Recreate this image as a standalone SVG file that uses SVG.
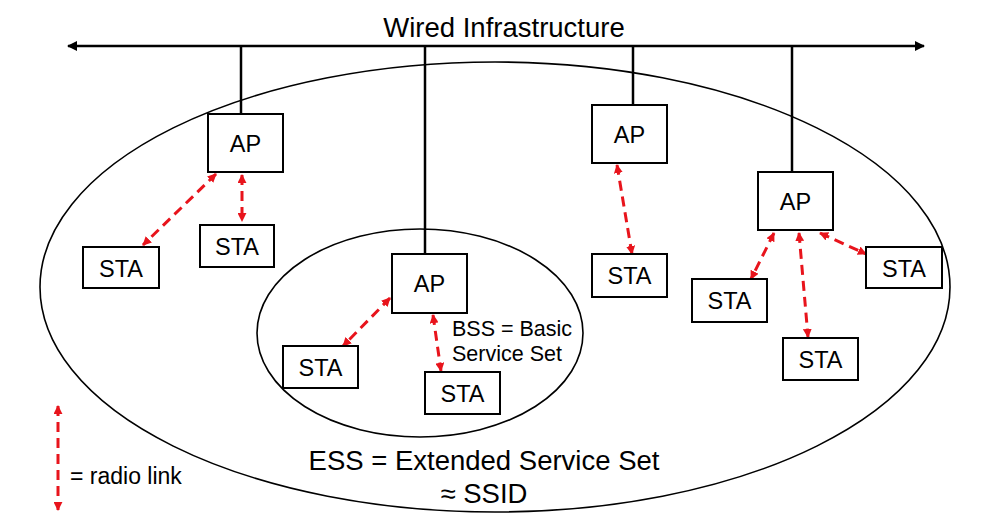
<svg xmlns="http://www.w3.org/2000/svg" width="1000" height="531" viewBox="0 0 1000 531">
<style>
.t{font-family:"Liberation Sans",Arial,sans-serif;fill:#000}
.n{font-size:23.5px;text-anchor:middle}
.box{fill:#fff;stroke:#000;stroke-width:2}
.wire{stroke:#000;stroke-width:2.5;fill:none}
.ell{fill:none;stroke:#000;stroke-width:1.6}
.radio{stroke:#e8141c;stroke-width:3;stroke-dasharray:10 6;fill:none;marker-start:url(#ra);marker-end:url(#ra)}
</style>
<defs>
<marker id="ra" viewBox="0 0 10 10" refX="9" refY="5" markerWidth="9" markerHeight="9" markerUnits="userSpaceOnUse" orient="auto-start-reverse">
<path d="M0,0 L10,5 L0,10 z" fill="#e8141c"/>
</marker>
<marker id="ba" viewBox="0 0 10 10" refX="9" refY="5" markerWidth="11" markerHeight="10" markerUnits="userSpaceOnUse" orient="auto-start-reverse">
<path d="M0,0 L10,5 L0,10 z" fill="#000"/>
</marker>
</defs>
<rect width="1000" height="531" fill="#fff"/>
<text class="t" x="504" y="37" font-size="27.5" text-anchor="middle">Wired Infrastructure</text>
<ellipse id="ess" class="ell" cx="495" cy="287" rx="455" ry="225"/>
<ellipse id="bss" class="ell" cx="420" cy="333" rx="163" ry="104"/>
<g id="connectors">
<line class="wire" x1="68" y1="46" x2="924" y2="46" marker-start="url(#ba)" marker-end="url(#ba)"/>
<line class="wire" x1="241" y1="46" x2="241" y2="114"/>
<line class="wire" x1="425" y1="46" x2="425" y2="254"/>
<line class="wire" x1="633" y1="46" x2="633" y2="105"/>
<line class="wire" x1="792" y1="46" x2="792" y2="172"/>
<line class="radio" x1="216" y1="174" x2="143" y2="245"/>
<line class="radio" x1="242" y1="175" x2="242" y2="221"/>
<line class="radio" x1="390" y1="298" x2="343" y2="346"/>
<line class="radio" x1="433" y1="315" x2="441" y2="371"/>
<line class="radio" x1="617" y1="165" x2="632" y2="254"/>
<line class="radio" x1="774" y1="233" x2="751" y2="279"/>
<line class="radio" x1="799" y1="233" x2="808" y2="337"/>
<line class="radio" x1="820" y1="233" x2="866" y2="254"/>
<line class="radio" x1="58" y1="406" x2="58" y2="510"/>
</g>
<g id="ap1"><rect class="box" x="208" y="114" width="75" height="58"/><text class="t n" x="245.5" y="151.5">AP</text></g>
<g id="sta1a"><rect class="box" x="83" y="247" width="76" height="41"/><text class="t n" x="121" y="276.5">STA</text></g>
<g id="sta1b"><rect class="box" x="200" y="225" width="74" height="42"/><text class="t n" x="237" y="254.5">STA</text></g>
<g id="ap2"><rect class="box" x="392" y="254" width="75" height="59"/><text class="t n" x="429.5" y="292">AP</text></g>
<g id="sta2a"><rect class="box" x="283" y="346" width="75" height="42"/><text class="t n" x="320.5" y="375.5">STA</text></g>
<g id="sta2b"><rect class="box" x="425" y="372" width="75" height="42"/><text class="t n" x="462.5" y="401.5">STA</text></g>
<g id="bss-label"><text class="t" x="452" y="336" font-size="21.5">BSS = Basic</text><text class="t" x="452" y="361" font-size="21.5">Service Set</text></g>
<g id="ap3"><rect class="box" x="592" y="105" width="75" height="58"/><text class="t n" x="629.5" y="142.5">AP</text></g>
<g id="sta3"><rect class="box" x="592" y="254" width="75" height="43"/><text class="t n" x="629.5" y="284">STA</text></g>
<g id="ap4"><rect class="box" x="758" y="172" width="75" height="58"/><text class="t n" x="795.5" y="209.5">AP</text></g>
<g id="sta4a"><rect class="box" x="692" y="279" width="75" height="43"/><text class="t n" x="729.5" y="309">STA</text></g>
<g id="sta4b"><rect class="box" x="783" y="338" width="75" height="42"/><text class="t n" x="820.5" y="367.5">STA</text></g>
<g id="sta4c"><rect class="box" x="866" y="247" width="76" height="41"/><text class="t n" x="904" y="276.5">STA</text></g>
<g id="legend"><text class="t" x="70" y="484" font-size="23">= radio link</text></g>
<g id="ess-label"><text class="t" x="484" y="470" font-size="27.5" text-anchor="middle">ESS = Extended Service Set</text><text class="t" x="484" y="503" font-size="27.5" text-anchor="middle">≈ SSID</text></g>
</svg>
